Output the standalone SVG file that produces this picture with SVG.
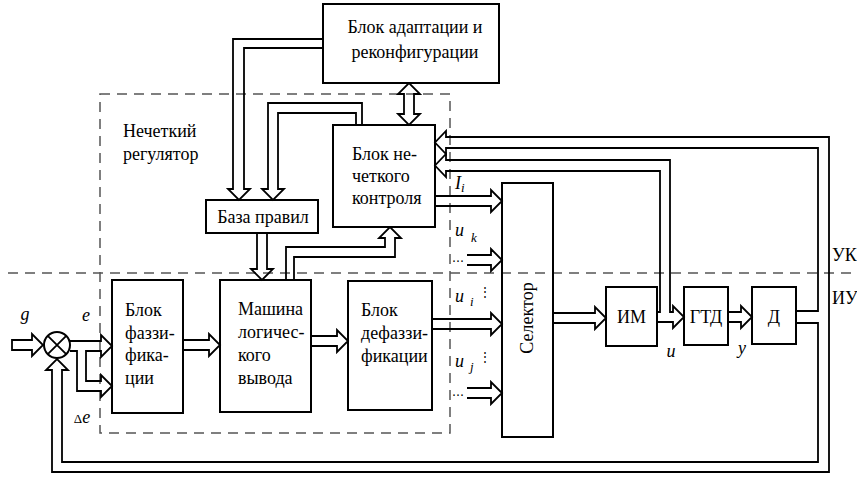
<svg xmlns="http://www.w3.org/2000/svg" width="857" height="477" viewBox="0 0 857 477">
<style>
.box{fill:none;stroke:#000;stroke-width:2}
.ln{fill:none;stroke:#000;stroke-width:1.8;stroke-linejoin:miter}
.dash{fill:none;stroke:#555;stroke-width:1.5;stroke-dasharray:10 7}
text{font-family:'Liberation Serif','DejaVu Serif',serif;font-size:18px;fill:#000}
.it{font-style:italic}
.sm{font-size:13px}
.dots{font-family:'DejaVu Serif',serif;font-size:12px}
</style>
<rect width="857" height="477" fill="#fff"/>
<g id="boundaries">
<rect class="dash" x="100" y="94" width="350" height="339"/>
<line class="dash" x1="8" y1="273" x2="857" y2="273"/>
<text x="123" y="137">Нечеткий</text>
<text x="123" y="160">регулятор</text>
<text x="832" y="261" font-size="17">УК</text>
<text x="832" y="304" font-size="17">ИУ</text>
</g>
<g id="adapt"><rect class="box" x="323" y="4" width="176" height="79"/>
<text x="415" y="33" text-anchor="middle">Блок адаптации и</text>
<text x="415" y="58" text-anchor="middle">реконфигурации</text></g>
<g id="control"><rect class="box" x="333" y="125" width="102" height="102"/>
<text x="352" y="160">Блок не-</text><text x="352" y="182">четкого</text><text x="352" y="204">контроля</text></g>
<g id="rules"><rect class="box" x="206" y="200" width="112" height="33"/>
<text x="263" y="223" text-anchor="middle">База правил</text></g>
<g id="summator"><circle class="box" cx="57" cy="345" r="13"/>
<path class="ln" d="M47.8,335.8 L66.2,354.2 M66.2,335.8 L47.8,354.2"/></g>
<g id="fuzz"><rect class="box" x="112" y="280" width="71" height="133"/>
<text x="125" y="316">Блок</text><text x="125" y="339">фаззи-</text><text x="125" y="361">фика-</text><text x="125" y="384">ции</text></g>
<g id="machine"><rect class="box" x="220" y="280" width="91" height="132"/>
<text x="238" y="315">Машина</text><text x="238" y="338">логичес-</text><text x="238" y="361">кого</text><text x="238" y="384">вывода</text></g>
<g id="defuzz"><rect class="box" x="348" y="281" width="84" height="129"/>
<text x="361" y="316">Блок</text><text x="361" y="339">дефаззи-</text><text x="361" y="362">фикации</text></g>
<g id="selector"><rect class="box" x="502" y="183" width="51" height="254"/>
<text transform="translate(533,318) rotate(-90)" text-anchor="middle">Селектор</text></g>
<g id="im"><rect class="box" x="606" y="287" width="51" height="59"/><text x="631.5" y="323" text-anchor="middle">ИМ</text></g>
<g id="gtd"><rect class="box" x="684" y="287" width="44" height="58"/><text x="706" y="323" text-anchor="middle">ГТД</text></g>
<g id="d"><rect class="box" x="752" y="287" width="44" height="57"/><text x="774" y="323" text-anchor="middle">Д</text></g>
<g id="connectors">
<path class="ln" d="M12,340 H32 V334 L43,345 L32,356 V350 H12 Z"/>
<path class="ln" d="M70,341 H101 V335 L112,346 L101,357 V351 H86 V381 H101 V375 L112,386 L101,397 V391 H77 V351 H70"/>
<path class="ln" d="M183,340 H209 V334 L220,345 L209,356 V350 H183"/>
<path class="ln" d="M311,336 H337 V330 L348,341 L337,352 V346 H311"/>
<path class="ln" d="M435,196 H491 V190 L502,201 L491,212 V206 H435"/>
<path class="ln" d="M467,255 H491 V249 L502,260 L491,271 V265 H467"/>
<path class="ln" d="M432,319 H491 V313 L502,324 L491,335 V329 H432"/>
<path class="ln" d="M467,388 H491 V382 L502,393 L491,404 V398 H467"/>
<path class="ln" d="M553,313 H595 V307 L606,318 L595,329 V323 H553"/>
<path class="ln" d="M728,312 H741 V306 L752,317 L741,328 V322 H728"/>
<path class="ln" d="M796,311 H818 V148 H446 V154 L435,142.5 L446,131 V137 H829 V472 H52 V370 H46 L57,359 L68,370 H62 V462 H818 V323 H796"/>
<path class="ln" d="M657,312 H660 V171 H446 V177 L435,165.5 L446,154 V160 H670 V312 H673 V306 L684,317 L673,328 V322 H657"/>
<path class="ln" d="M323,39 H233 V189 H228 L239,200 L250,189 H244 V48 H323"/>
<path class="ln" d="M362,125 V103 H268 V189 H262 L273,200 L284,189 H278 V113 H356 V125"/>
<path class="ln" d="M286,280 V247 H385 V238 H379 L390,227 L401,238 H395 V257 H294 V280"/>
<path class="ln" d="M257,233 V269 H251 L262,280 L273,269 H267 V233"/>
<path class="ln" d="M404,94 V114 H398 L409,125 L420,114 H414 V94 H420 L409,83 L398,94 Z"/>
</g>
<g id="labels">
<text class="it" x="25" y="320" text-anchor="middle" font-size="20">g</text>
<text class="it" x="86" y="321" text-anchor="middle">e</text>
<text x="82" y="423" text-anchor="middle"><tspan font-size="13">Δ</tspan><tspan class="it">e</tspan></text>
<text class="it" x="455" y="189">I<tspan class="sm" dy="3">i</tspan></text>
<text class="it" x="455" y="236">u</text><text class="it sm" x="471" y="242">k</text>
<text class="dots" x="452" y="262">…</text>
<text class="it" x="455" y="302">u</text><text class="it sm" x="470" y="306">i</text>
<text class="dots" x="479" y="296">⋮</text>
<text class="it" x="455" y="367">u</text><text class="it sm" x="470" y="371">j</text>
<text class="dots" x="479" y="361">⋮</text>
<text class="dots" x="452" y="396">…</text>
<text class="it" x="671" y="357" text-anchor="middle">u</text>
<text class="it" x="742" y="354" text-anchor="middle">y</text>
</g>
</svg>
